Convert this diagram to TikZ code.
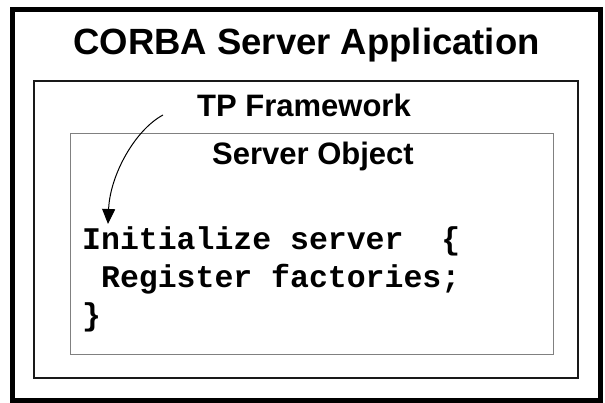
\documentclass[tikz,border=0pt]{standalone}
\usepackage{fontspec}
\setmainfont{Liberation Sans}
\setmonofont{Liberation Mono}
\usetikzlibrary{arrows.meta}
\begin{document}
\begin{tikzpicture}[x=1pt,y=-1pt,
  box/.style={draw,inner sep=0pt,outer sep=0pt,rectangle},
  title/.style={font=\bfseries\fontsize{36.5}{40}\selectfont,anchor=base,inner sep=0pt},
  label/.style={font=\bfseries\fontsize{31}{34}\selectfont,anchor=base,inner sep=0pt},
  code/.style={font=\ttfamily\bfseries\fontsize{31.5}{37}\selectfont,anchor=base west,inner sep=0pt},
  flow/.style={line width=1pt,-{Triangle[length=15pt,width=13pt]}}]
\useasboundingbox (0,0) rectangle (605,403);
\node[box,line width=5pt,minimum width=588pt,minimum height=390pt] (outer) at (306,205) {};
\node[box,line width=1.6pt,draw=black!90,minimum width=544pt,minimum height=297pt] (frame) at (306,229.5) {};
\node[box,line width=1pt,draw=black!50,minimum width=483pt,minimum height=220pt] (obj) at (311.5,244) {};
\node[title] (t1) at (306.5,55) {CORBA Server Application};
\node[label] (t2) at (304,117) {TP Framework};
\node[label] (t3) at (313,165) {Server Object};
\node[code] (c1) at (82,250) {Initialize server~~\{};
\node[code] (c2) at (82,288) {~Register factories;};
\node[code] (c3) at (82,325) {\}};
\coordinate (from) at (163,115);
\coordinate (to) at (108,224);
\draw[flow] (from) .. controls (135,130) and (110,175) .. (to);
\end{tikzpicture}
\end{document}
